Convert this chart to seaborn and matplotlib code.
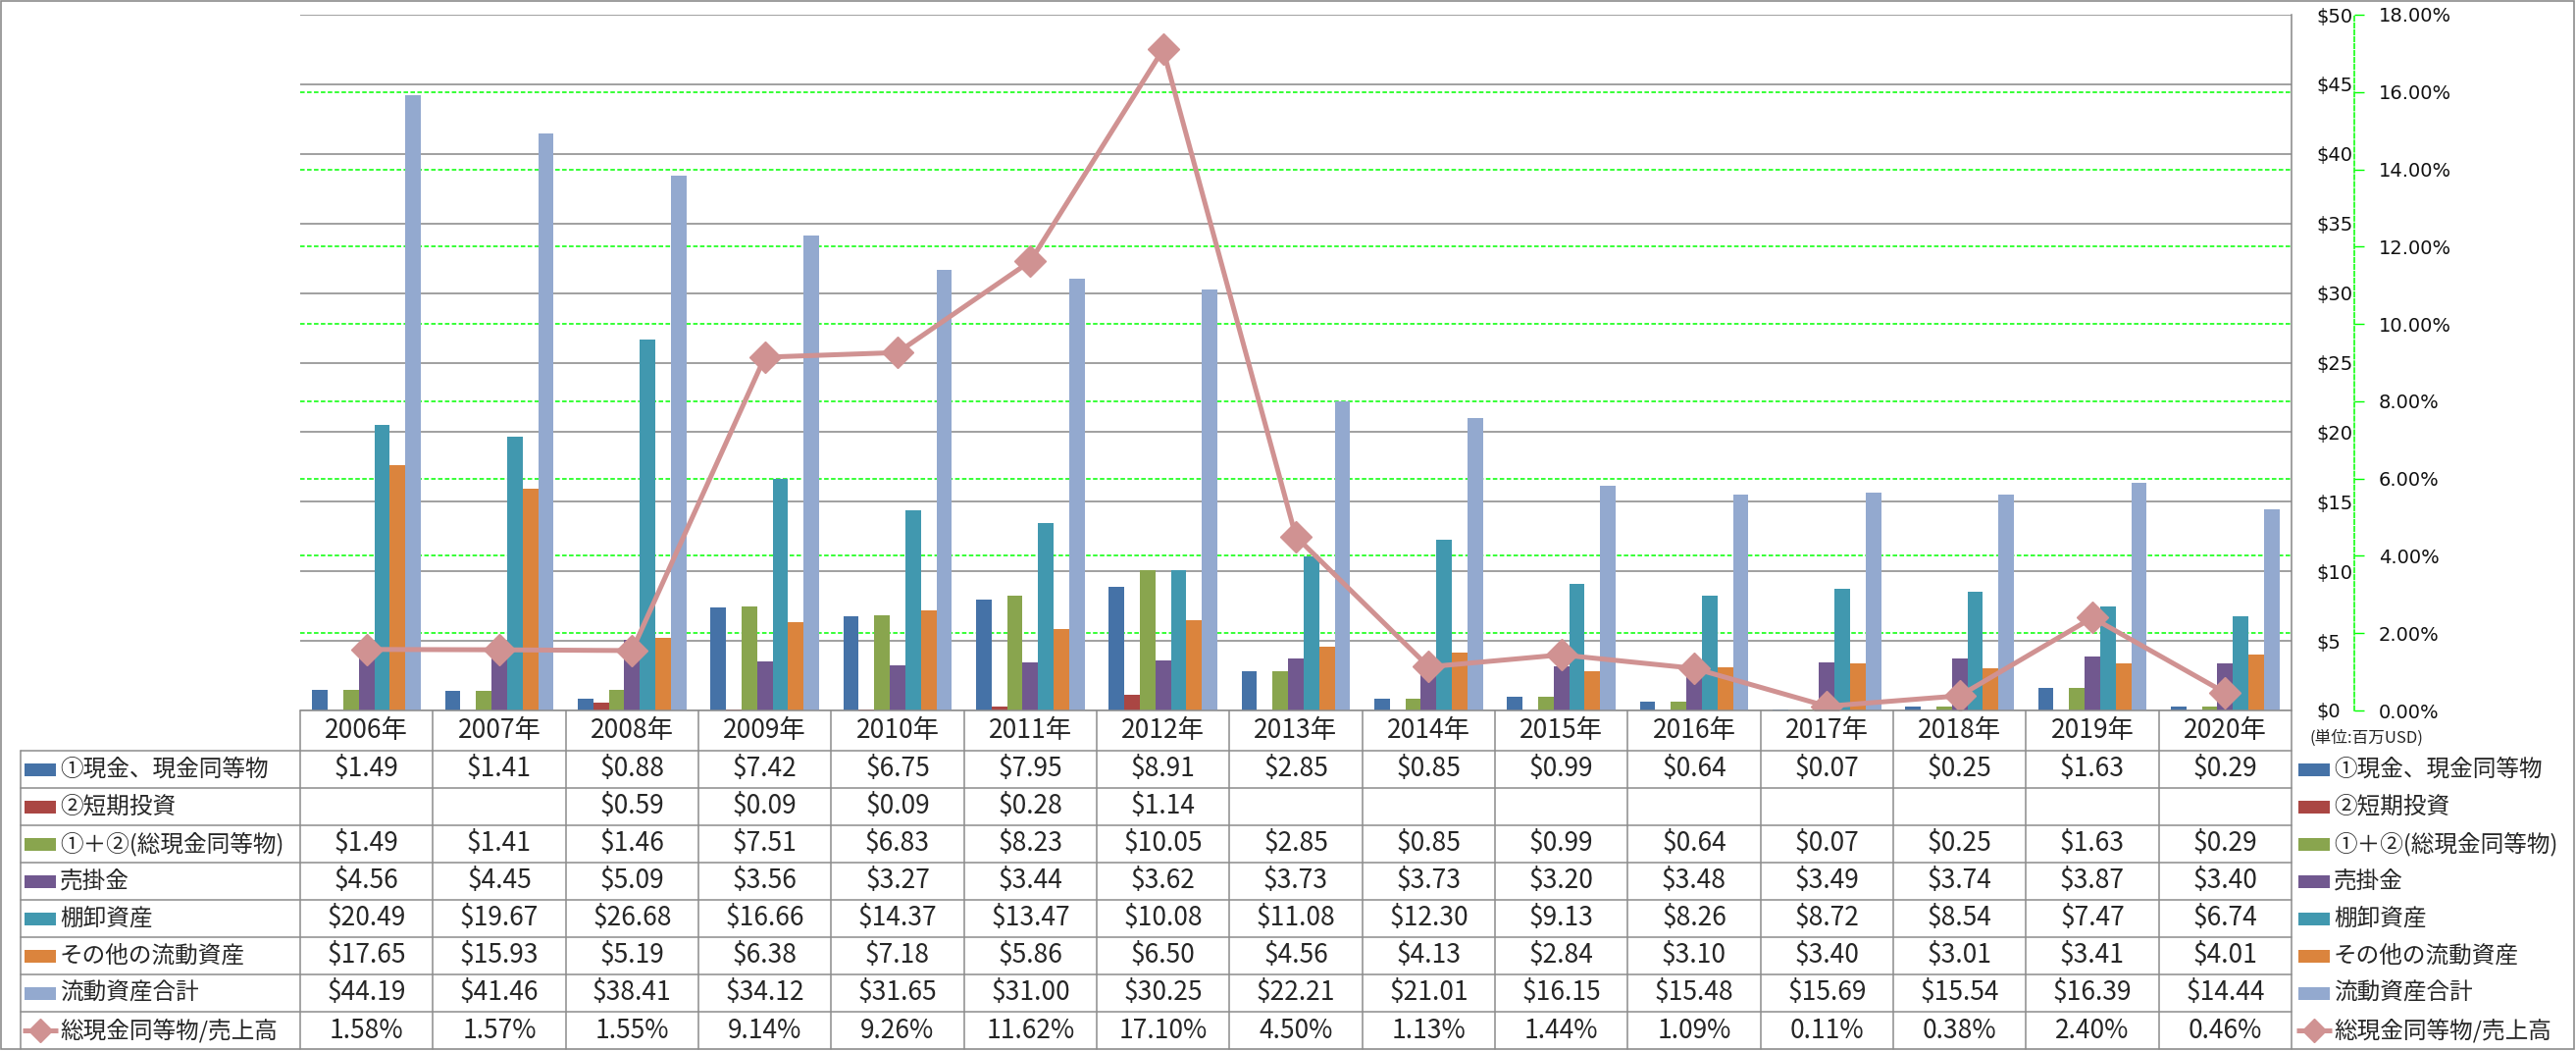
import numpy as np
import pandas as pd
import matplotlib.pyplot as plt
import seaborn as sns
from matplotlib.transforms import blended_transform_factory
from matplotlib.patches import Rectangle

# ---- data (百万USD) ----
years = [f"{y}年" for y in range(2006, 2021)]

cash = [1.49, 1.41, 0.88, 7.42, 6.75, 7.95, 8.91, 2.85, 0.85, 0.99, 0.64, 0.07, 0.25, 1.63, 0.29]
short_term = [np.nan, np.nan, 0.59, 0.09, 0.09, 0.28, 1.14, np.nan, np.nan, np.nan,
              np.nan, np.nan, np.nan, np.nan, np.nan]
total_cash = [1.49, 1.41, 1.46, 7.51, 6.83, 8.23, 10.05, 2.85, 0.85, 0.99, 0.64, 0.07, 0.25, 1.63, 0.29]
receivables = [4.56, 4.45, 5.09, 3.56, 3.27, 3.44, 3.62, 3.73, 3.73, 3.20, 3.48, 3.49, 3.74, 3.87, 3.40]
inventory = [20.49, 19.67, 26.68, 16.66, 14.37, 13.47, 10.08, 11.08, 12.30, 9.13, 8.26, 8.72, 8.54, 7.47, 6.74]
other_current = [17.65, 15.93, 5.19, 6.38, 7.18, 5.86, 6.50, 4.56, 4.13, 2.84, 3.10, 3.40, 3.01, 3.41, 4.01]
current_total = [44.19, 41.46, 38.41, 34.12, 31.65, 31.00, 30.25, 22.21, 21.01, 16.15, 15.48, 15.69, 15.54, 16.39, 14.44]
cash_to_sales = [1.58, 1.57, 1.55, 9.14, 9.26, 11.62, 17.10, 4.50, 1.13, 1.44, 1.09, 0.11, 0.38, 2.40, 0.46]

bar_names = ['①現金、現金同等物', '②短期投資', '①＋②(総現金同等物)', '売掛金',
             '棚卸資産', 'その他の流動資産', '流動資産合計']
line_name = '総現金同等物/売上高'
bar_values = [cash, short_term, total_cash, receivables, inventory, other_current, current_total]

bar_colors = ['#4572A7', '#AA4643', '#89A54E', '#71588F', '#4198AF', '#DB843D', '#93A9CF']
line_color = '#D09292'
grid_gray = '#868686'
green = '#00FF00'

usd_ticks = list(range(0, 51, 5))
pct_ticks = list(range(0, 19, 2))

wide = pd.DataFrame({'year': years})
for name, vals in zip(bar_names, bar_values):
    wide[name] = vals
long = wide.melt(id_vars='year', var_name='series', value_name='value')

sns.set_style('white')
plt.rcParams['font.family'] = ['DejaVu Sans', 'Noto Sans CJK JP']
jp = ['Noto Sans CJK JP', 'DejaVu Sans']

W, H = 2626, 1071
fig = plt.figure(figsize=(W / 100, H / 100), dpi=100)

# plot area in pixels
px_l, px_r, px_t, px_b = 306, 2336, 15, 724
ax = fig.add_axes([px_l / W, 1 - px_b / H, (px_r - px_l) / W, (px_b - px_t) / H])
ax2 = ax.twinx()

sns.barplot(data=long, x='year', y='value', hue='series', hue_order=bar_names,
            palette=bar_colors, saturation=1, width=0.82, errorbar=None,
            linewidth=0, legend=False, ax=ax)

ax.set_xlim(-0.5, 14.5)
ax.set_ylim(0, 50)
ax.set_xticks([])
ax.set_xlabel('')
ax.set_ylabel('')
ax.set_yticks(usd_ticks)
ax.set_yticklabels([f"${t}" for t in usd_ticks])
ax.yaxis.tick_right()
ax.tick_params(axis='y', length=0, pad=18, labelsize=14, labelcolor='#111111')
ax.set_axisbelow(True)
ax.grid(axis='y', color=grid_gray, lw=1.1)
for s in ['top', 'left', 'bottom']:
    ax.spines[s].set_visible(False)
ax.spines['right'].set_color(grid_gray)
ax.spines['right'].set_linewidth(1.1)

# green dashed gridlines for the percent axis, kept behind the bars
tr = blended_transform_factory(ax.transAxes, ax2.transData)
for p in pct_ticks[1:-1]:
    ax.plot([0, 1], [p, p], transform=tr, color=green, lw=1.1,
            ls=(0, (3, 1.6)), zorder=0.6)

# cash / sales line
sns.lineplot(x=np.arange(len(years)), y=cash_to_sales, ax=ax2, color=line_color,
             lw=3.6, marker='D', markersize=16, markeredgecolor=line_color,
             markeredgewidth=1, solid_joinstyle='round', legend=False)
ax2.set_xlim(-0.5, 14.5)
ax2.set_ylim(0, 18)
ax2.set_yticks(pct_ticks)
ax2.set_yticklabels([f"{t:.2f}%" for t in pct_ticks])
ax2.set_ylabel('')
ax2.tick_params(axis='y', length=7, width=1, color=green, pad=11,
                labelsize=14, labelcolor='#111111', direction='out')
for s in ['top', 'left', 'bottom']:
    ax2.spines[s].set_visible(False)
ax2.spines['right'].set_position(('outward', 46))
ax2.spines['right'].set_color(green)
ax2.spines['right'].set_linestyle((0, (3, 1.6)))
ax2.spines['right'].set_linewidth(1.1)

# ---- data table + legend (pixel overlay) ----
ov = fig.add_axes([0, 0, 1, 1], zorder=5)
ov.set_xlim(0, W)
ov.set_ylim(H, 0)
ov.axis('off')
ov.patch.set_alpha(0)

tbl_gray = '#8C8C8C'
col_w = (px_r - px_l) / len(years)
hdr_top, row_top, row_h = 724, 765, 38
n_rows = len(bar_names) + 1
tbl_bot = row_top + n_rows * row_h
lab_l = 21

# chart border
ov.add_patch(Rectangle((1, 1), W - 3, tbl_bot - 1, fill=False, ec=tbl_gray, lw=1.2))

ov.plot([px_l, px_r], [hdr_top, hdr_top], color=tbl_gray, lw=1.1)
for k in range(n_rows):
    y = row_top + k * row_h
    ov.plot([lab_l, px_r], [y, y], color=tbl_gray, lw=1.1)
ov.plot([lab_l, lab_l], [row_top, tbl_bot], color=tbl_gray, lw=1.1)
for i in range(len(years) + 1):
    x = px_l + i * col_w
    ov.plot([x, x], [hdr_top, tbl_bot], color=tbl_gray, lw=1.1)

fs_lab = 17
fs_num = 19
for i, yr in enumerate(years):
    ov.text(px_l + (i + 0.5) * col_w, (hdr_top + row_top) / 2, yr, ha='center',
            va='center', fontsize=fs_num, family=jp)

row_names = bar_names + [line_name]
row_vals = bar_values + [cash_to_sales]
for k, (name, vals) in enumerate(zip(row_names, row_vals)):
    yc = row_top + (k + 0.5) * row_h
    for i, v in enumerate(vals):
        if v is None or np.isnan(v):
            continue
        txt = f"{v:.2f}%" if k == n_rows - 1 else f"${v:.2f}"
        ov.text(px_l + (i + 0.5) * col_w, yc, txt, ha='center', va='center',
                fontsize=fs_num, family=jp)
    # keys: in the row-label column and in the right-hand legend
    for kx in (25, 2343):
        if k < len(bar_names):
            ov.add_patch(Rectangle((kx, yc - 6.5), 32, 13, color=bar_colors[k], lw=0))
        else:
            ov.plot([kx - 2, kx + 34], [yc, yc], color=line_color, lw=3.6,
                    solid_capstyle='butt')
            ov.plot([kx + 16], [yc], color=line_color, marker='D', markersize=12)
        ov.text(kx + 36, yc, name, ha='left', va='center', fontsize=fs_lab, family=jp)

ov.text(2355, 752, '(単位:百万USD)', ha='left', va='center', fontsize=12, family=jp)

fig.savefig('out.png', dpi=100)
